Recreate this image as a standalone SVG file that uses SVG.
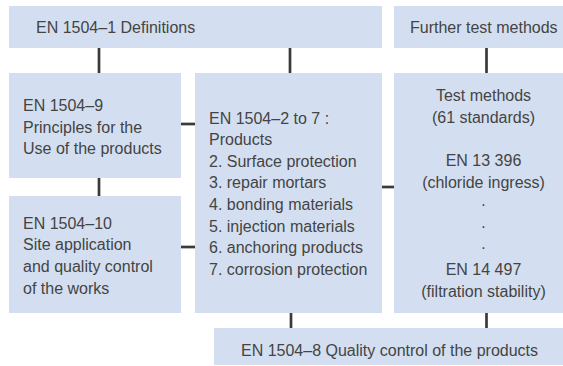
<svg xmlns="http://www.w3.org/2000/svg" width="563" height="366" viewBox="0 0 563 366">
<style>
.box{fill:#d3dff0;}
.t{font-family:"Liberation Sans",Arial,sans-serif;font-size:16px;fill:#444444;}
.c{text-anchor:middle;}
.ln{stroke:#3a3a3a;stroke-width:2.7;fill:none;}
</style>
<rect width="563" height="366" fill="#ffffff"/>
<g id="connectors">
<line class="ln" x1="99" y1="48" x2="99" y2="73"/>
<line class="ln" x1="290" y1="48" x2="290" y2="73"/>
<line class="ln" x1="486.5" y1="48" x2="486.5" y2="73"/>
<line class="ln" x1="99" y1="178" x2="99" y2="196"/>
<line class="ln" x1="181" y1="124" x2="195" y2="124"/>
<line class="ln" x1="181" y1="247" x2="195" y2="247"/>
<line class="ln" x1="382" y1="187" x2="394" y2="187"/>
<line class="ln" x1="291" y1="313" x2="291" y2="328"/>
<line class="ln" x1="486.5" y1="313" x2="486.5" y2="328"/>
</g>
<g id="en1504-1">
<rect class="box" x="9" y="6" width="373" height="42"/>
<text class="t" x="36" y="33">EN 1504–1 Definitions</text>
</g>
<g id="further-test">
<rect class="box" x="394" y="6" width="169" height="42"/>
<text class="t" x="410" y="33">Further test methods</text>
</g>
<g id="en1504-9">
<rect class="box" x="9" y="73" width="172" height="105"/>
<text class="t" x="23" y="111">EN 1504–9</text>
<text class="t" x="23" y="132.5">Principles for the</text>
<text class="t" x="23" y="154">Use of the products</text>
</g>
<g id="en1504-10">
<rect class="box" x="9" y="196" width="172" height="117"/>
<text class="t" x="23" y="228.5">EN 1504–10</text>
<text class="t" x="23" y="250.3">Site application</text>
<text class="t" x="23" y="272">and quality control</text>
<text class="t" x="23" y="293.8">of the works</text>
</g>
<g id="en1504-2-7">
<rect class="box" x="195" y="73" width="187" height="240"/>
<text class="t" x="209" y="123.5">EN 1504–2 to 7 :</text>
<text class="t" x="209" y="145">Products</text>
<text class="t" x="209" y="166.7">2. Surface protection</text>
<text class="t" x="209" y="188.3">3. repair mortars</text>
<text class="t" x="209" y="210">4. bonding materials</text>
<text class="t" x="209" y="231.7">5. injection materials</text>
<text class="t" x="209" y="253.4">6. anchoring products</text>
<text class="t" x="209" y="275.1">7. corrosion protection</text>
</g>
<g id="test-methods">
<rect class="box" x="394" y="73" width="169" height="240"/>
<text class="t c" x="483.5" y="101">Test methods</text>
<text class="t c" x="483.5" y="122.75">(61 standards)</text>
<text class="t c" x="483.5" y="166.25">EN 13 396</text>
<text class="t c" x="483.5" y="188">(chloride ingress)</text>
<text class="t c" x="483.5" y="209.75">·</text>
<text class="t c" x="483.5" y="231.5">·</text>
<text class="t c" x="483.5" y="253.25">·</text>
<text class="t c" x="483.5" y="275">EN 14 497</text>
<text class="t c" x="483.5" y="296.75">(filtration stability)</text>
</g>
<g id="en1504-8">
<rect class="box" x="214" y="328" width="349" height="37"/>
<text class="t" x="241" y="355.5">EN 1504–8 Quality control of the products</text>
</g>
</svg>
